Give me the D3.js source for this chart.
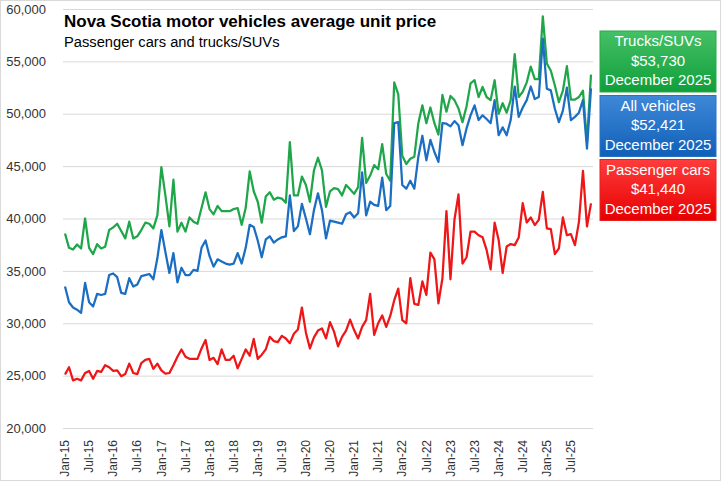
<!DOCTYPE html>
<html>
<head>
<meta charset="utf-8">
<script src="https://cdn.jsdelivr.net/npm/d3@7"></script>
<style>
  body { margin: 0; background: #fff; }
  svg { display: block; font-family: "Liberation Sans", Arial, sans-serif; }
</style>
</head>
<body>
<div id="chart"></div>
<script>
// =====================================
// DATA (monthly, Jan 2015 - Dec 2025)
// =====================================

const months = d3.timeMonth.range(new Date(2015, 0, 1), new Date(2026, 0, 1));

const tickLabels = [
  "Jan-15", "Jul-15", "Jan-16", "Jul-16", "Jan-17", "Jul-17", "Jan-18", "Jul-18",
  "Jan-19", "Jul-19", "Jan-20", "Jul-20", "Jan-21", "Jul-21", "Jan-22", "Jul-22",
  "Jan-23", "Jul-23", "Jan-24", "Jul-24", "Jan-25", "Jul-25"
];

const yTicks = [20000, 25000, 30000, 35000, 40000, 45000, 50000, 55000, 60000];

const trucks = [
  38570, 37200, 37040, 37520, 37130, 40000, 37200, 36600, 37550, 37130, 37300, 38900,
  39150, 39500, 38800, 38100, 39700, 38100, 38300, 38900, 39600, 39500, 39050, 40300,
  44900, 42200, 39250, 43700, 38750, 39600, 38750, 40100, 39700, 39500, 41000, 42500,
  40900, 40400, 41200, 40700, 40700, 40700, 40900, 41000, 39400, 41000, 44500, 42600,
  41600, 39600, 42100, 42500, 41800, 42000, 41900, 41500, 47300, 42200, 42200, 44000,
  43200, 41600, 44600, 45800, 44600, 41100, 42600, 42900, 42800, 42200, 43200, 42800,
  42350, 43000, 47700, 43400, 44100, 45100, 44700, 47100, 44250, 43600, 53000, 51850,
  46000, 45200, 45700, 45900, 49100, 50800, 49100, 50600, 49100, 48000, 51800, 50200,
  51700, 51300, 50500, 49200, 50700, 52900, 53200, 51600, 52550, 51600, 51300, 53200,
  50000, 51000, 50100, 51300, 55700, 51600, 52100, 53000, 54500, 53300, 53300, 59300,
  54800, 54100, 52700, 51100, 52200, 54550, 51350, 51350, 51600, 52200, 47300, 53730
];

const allVehicles = [
  33500, 32000, 31500, 31300, 31000, 33850, 32000, 31600, 32800, 32700, 32800, 34600,
  34750, 34400, 32900, 32800, 34300, 33500, 33700, 34500, 34600, 34700, 34200, 36200,
  38900, 36800, 34800, 36700, 33900, 35300, 34600, 34600, 35100, 35000, 37200, 37900,
  36400, 35400, 36100, 35900, 35700, 35600, 35700, 36700, 35700, 37200, 39400, 39200,
  37900, 36300, 38000, 38300, 37700, 38000, 38200, 38300, 42200, 38800, 39250, 41400,
  40000, 38500, 40800, 42400, 40800, 38100, 39800, 39700, 39600, 39500, 40400, 40600,
  40100, 40500, 44400, 40300, 41600, 41300, 41200, 43900, 40800, 41200, 49100, 49200,
  43200, 42850, 43600, 42850, 45900, 47900, 45550, 47500, 46350, 45400, 49100, 49050,
  48800, 49300, 48900, 47000, 48600, 49850, 50800, 49400, 49850, 49500, 49100, 51300,
  47950, 48700, 47950, 49400, 52600, 49700, 50600, 51300, 52600, 51400, 51600, 57170,
  52390, 52230, 50480, 49200, 50300, 52500, 49400, 49700, 50100, 51300, 46660, 52421
];

const passengerCars = [
  25100, 25800, 24550, 24700, 24550, 25250, 25450, 24700, 25450, 25350, 26000, 25800,
  25450, 25500, 24950, 25150, 26150, 25250, 25150, 26200, 26500, 26600, 25650, 26150,
  25500, 25200, 25250, 26000, 26800, 27500, 26800, 26600, 26600, 26600, 27600, 28400,
  26500, 26700, 26100, 27500, 26500, 26500, 26900, 25700, 26600, 27500, 26900, 28500,
  26600, 27000, 27500, 28700, 28300, 28200, 28800, 28550, 28100, 29000, 29400, 31500,
  29100, 27600, 28650, 29300, 29500, 28550, 30100, 29200, 27800, 28700, 29300, 30350,
  29350, 28550, 29650, 30300, 32800, 28900, 30000, 30750, 29650, 30700, 32200, 33300,
  30300, 30000, 34300, 31850, 31750, 34000, 32700, 36750, 36100, 31900, 34300, 40700,
  34200, 39900, 42300, 35700, 36300, 38750, 38750, 38400, 38200, 37000, 35150, 39600,
  37950, 34800, 37330, 37560, 37460, 38190, 41460, 39620, 40100, 39370, 39870, 42540,
  39050, 38980, 36600, 37140, 40100, 38410, 38500, 37460, 39680, 44540, 39240, 41440
];

const seriesNames = ["Trucks/SUVs", "All vehicles", "Passenger cars"];
const seriesValues = [trucks, allVehicles, passengerCars];
const latestLabel = "December 2025";

// =====================================
// DIMENSIONS
// =====================================

const width = 721;
const height = 481;

const plot = { left: 63, right: 593, top: 9, bottom: 428 };

const lineColors = ["#1fa64a", "#1b6ec1", "#ee1616"];
const boxTop = ["#45c066", "#3f88d8", "#ff3c3c"];
const boxBottom = ["#0f9f3a", "#1060b8", "#e60000"];
const boxStroke = ["#2aa84a", "#2a72c4", "#e82020"];

// =====================================
// SVG
// =====================================

const svg = d3.select("#chart")
  .append("svg")
  .attr("width", width)
  .attr("height", height);

svg.append("rect")
  .attr("x", 0.5)
  .attr("y", 0.5)
  .attr("width", width - 1)
  .attr("height", height - 1)
  .attr("fill", "#fff")
  .attr("stroke", "#d9d9d9");

// =====================================
// SCALES
// =====================================

const fmtMonth = d3.timeFormat("%b-%y");

const x = d3.scaleBand()
  .domain(months.map(fmtMonth))
  .range([plot.left, plot.right]);

const y = d3.scaleLinear()
  .domain([20000, 60000])
  .range([plot.bottom, plot.top]);

const xPos = i => x(fmtMonth(months[i])) + x.bandwidth() / 2;

// =====================================
// Y AXIS + GRIDLINES
// =====================================

const yAxis = svg.append("g")
  .attr("transform", `translate(${plot.left},0)`)
  .call(
    d3.axisLeft(y)
      .tickValues(yTicks)
      .tickSize(-(plot.right - plot.left))
      .tickPadding(17)
      .tickFormat(d3.format(","))
  );

yAxis.select(".domain").remove();
yAxis.selectAll(".tick line").attr("stroke", "#d9d9d9");
yAxis.selectAll(".tick text")
  .style("font-size", "13px")
  .style("fill", "#333");

// =====================================
// X AXIS
// =====================================

const xAxis = svg.append("g")
  .attr("transform", `translate(0,${plot.bottom})`)
  .call(
    d3.axisBottom(x)
      .tickValues(tickLabels)
      .tickSize(0)
  );

xAxis.select(".domain").remove();
xAxis.selectAll(".tick text")
  .attr("transform", "rotate(-90)")
  .attr("x", -12)
  .attr("y", 0)
  .attr("dy", "0.35em")
  .style("text-anchor", "end")
  .style("font-size", "12px")
  .style("fill", "#333");

// =====================================
// LINES
// =====================================

const line = d3.line()
  .x((d, i) => xPos(i))
  .y(d => y(d));

svg.selectAll(".series")
  .data(seriesValues)
  .enter()
  .append("path")
  .attr("class", "series")
  .attr("d", d => line(d))
  .attr("fill", "none")
  .attr("stroke", (d, i) => lineColors[i])
  .attr("stroke-width", 2.25)
  .attr("stroke-linejoin", "round");

// =====================================
// TITLE
// =====================================

svg.append("text")
  .attr("x", 64)
  .attr("y", 27)
  .style("font-size", "17px")
  .style("font-weight", "700")
  .style("fill", "#000")
  .text("Nova Scotia motor vehicles average unit price");

svg.append("text")
  .attr("x", 64)
  .attr("y", 47)
  .style("font-size", "14.7px")
  .style("fill", "#000")
  .text("Passenger cars and trucks/SUVs");

// =====================================
// LATEST VALUE BOXES
// =====================================

const defs = svg.append("defs");

seriesNames.forEach((name, i) => {
  const g = defs.append("linearGradient")
    .attr("id", `grad${i}`)
    .attr("x1", 0).attr("y1", 0)
    .attr("x2", 0).attr("y2", 1);
  g.append("stop").attr("offset", "0%").attr("stop-color", boxTop[i]);
  g.append("stop").attr("offset", "100%").attr("stop-color", boxBottom[i]);
});

const boxX = 600;
const boxW = 116;
const boxH = 61;
const boxY = [31, 95.5, 159.5];

const boxes = svg.selectAll(".latest")
  .data(seriesNames)
  .enter()
  .append("g")
  .attr("class", "latest")
  .attr("transform", (d, i) => `translate(${boxX},${boxY[i]})`);

boxes.append("rect")
  .attr("width", boxW)
  .attr("height", boxH)
  .attr("fill", (d, i) => `url(#grad${i})`)
  .attr("stroke", (d, i) => boxStroke[i]);

boxes.each(function(name, i) {
  const vals = seriesValues[i];
  const lines = [name, d3.format("$,")(vals[vals.length - 1]), latestLabel];
  d3.select(this).selectAll("text")
    .data(lines)
    .enter()
    .append("text")
    .attr("x", boxW / 2)
    .attr("y", (d, j) => 15 + j * 19.6)
    .attr("text-anchor", "middle")
    .style("font-size", "15px")
    .style("fill", "#fff")
    .text(d => d);
});
</script>
</body>
</html>
